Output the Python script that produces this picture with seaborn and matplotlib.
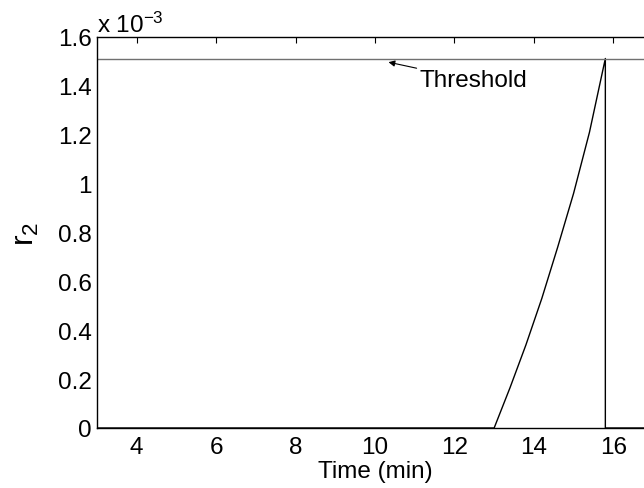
import matplotlib
matplotlib.use("Agg")
import matplotlib.pyplot as plt
import seaborn as sns
import pandas as pd

# data (r2 in units of 1e-3)
time_min = [3.0, 13.0, 13.4, 13.8, 14.2, 14.6, 15.0, 15.4, 15.8, 15.8, 17.0]
r2_e3 = [0.0, 0.0, 0.165, 0.34, 0.53, 0.74, 0.96, 1.21, 1.512, 0.0, 0.0]
threshold_e3 = 1.51
x_ticks = [4, 6, 8, 10, 12, 14, 16]
y_ticks = [0, 0.2, 0.4, 0.6, 0.8, 1, 1.2, 1.4, 1.6]
y_tick_labels = ["0", "0.2", "0.4", "0.6", "0.8", "1", "1.2", "1.4", "1.6"]

sns.set_style("white")
plt.rcParams['font.family'] = ['Liberation Sans', 'DejaVu Sans']
plt.rcParams['mathtext.fontset'] = 'custom'
plt.rcParams['mathtext.rm'] = 'Liberation Sans'
plt.rcParams['mathtext.it'] = 'Liberation Sans'
plt.rcParams['text.color'] = 'black'
plt.rcParams['axes.labelcolor'] = 'black'

df = pd.DataFrame({"Time": time_min, "r2": r2_e3})

FS = 17.5
fig = plt.figure(figsize=(6.44, 4.89), dpi=100)
ax = fig.add_axes([97/644, 60/489, 556/644, 391/489])

sns.lineplot(data=df, x="Time", y="r2", ax=ax, sort=False, estimator=None,
             color="black", linewidth=1.0)
ax.axhline(threshold_e3, color="#707070", linewidth=1.0)

ax.set_xlim(3, 17)
ax.set_ylim(0, 1.6)
ax.set_xticks(x_ticks)
ax.set_xticklabels([str(t) for t in x_ticks])
ax.set_yticks(y_ticks)
ax.set_yticklabels(y_tick_labels)
ax.tick_params(direction="in", top=True, right=True, length=4, width=0.8,
               labelsize=FS, colors="black")
ax.tick_params(axis="x", pad=6)
ax.tick_params(axis="y", pad=4)
for s in ax.spines.values():
    s.set_color("black")
    s.set_linewidth(1.0)

ax.set_xlabel("Time (min)", fontsize=FS, labelpad=1)
ax.set_ylabel("r$_2$", fontsize=23, labelpad=12)

ax.text(0.0, 1.0, "x 10$^{-3}$", transform=ax.transAxes, fontsize=FS,
        ha="left", va="bottom")

ax.annotate("Threshold", xy=(10.34, 1.497), xytext=(11.13, 1.422),
            fontsize=FS, ha="left", va="center",
            arrowprops=dict(arrowstyle="-|>", color="black", lw=0.8,
                            shrinkA=0, shrinkB=0, mutation_scale=9))

fig.savefig("out.png", dpi=100)
